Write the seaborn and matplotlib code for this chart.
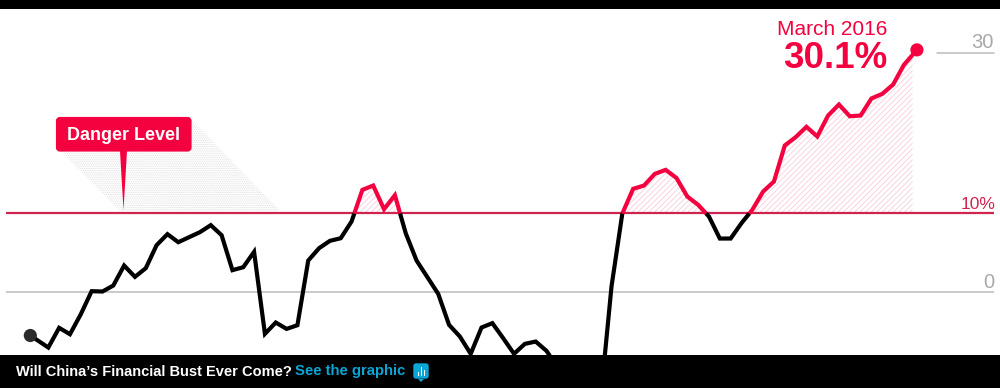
import numpy as np
import pandas as pd
import matplotlib
matplotlib.use("Agg")
import matplotlib.pyplot as plt
import seaborn as sns
from matplotlib.patches import Rectangle, FancyBboxPatch, Polygon
from matplotlib.transforms import Affine2D

# ---- data -----------------------------------------------------------------
quarters = [-1.66] + list(range(0, 80)) + [80.2]
gap_pct = [
    -5.52, -7.03, -4.56, -5.36, -2.85, 0.04, 0.0, 0.75, 3.26, 1.84,
    2.93, 5.82, 7.2, 6.19, 6.82, 7.45, 8.33, 7.07, 2.68, 3.05,
    4.98, -5.31, -3.89, -4.69, -4.23, 3.89, 5.44, 6.36, 6.69, 8.79,
    12.76, 13.3, 10.33, 12.09, 7.32, 3.89, 1.8, -0.29, -4.18, -5.65,
    -7.82, -4.52, -3.97, -5.86, -7.82, -6.57, -6.28, -7.45, -9.5, -12.0,
    -14.0, -15.0, -13.4, 0.63, 9.79, 12.89, 13.3, 14.77, 15.27, 14.25,
    11.92, 10.88, 9.41, 6.65, 6.65, 8.58, 10.25, 12.55, 13.81, 18.33,
    19.37, 20.67, 19.46, 22.09, 23.47, 22.0, 22.09, 24.23, 24.81, 25.98,
    28.45, 30.33,
]
danger = 9.8
y_ticks = [0, 30]
y_tick_labels = ["0", "30"]
danger_label = "10%"
callout_date = "March 2016"
callout_value = "30.1%"
danger_title = "Danger Level"
headline = "Will China\u2019s Financial Bust Ever Come?"
link_text = "See the graphic"

RED = "#f4013f"
LINE_RED = "#cf2450"
BLACK = "#000000"
GREY = "#bcbcbc"
BLUE = "#0ba5d6"

sns.set_theme(style="white")
plt.rcParams["font.family"] = ["Liberation Sans", "DejaVu Sans"]
plt.rcParams["hatch.linewidth"] = 0.5

fig = plt.figure(figsize=(10, 3.88), dpi=100, facecolor="white")
ax = fig.add_axes([0, 0, 1, 1])
ax.set_xlim(-4.46, 87.87)
ax.set_ylim(-12.11, 36.59)
ax.axis("off")

px = Affine2D().scale(1, -1).translate(0, 388)  # decoration pixels, y down

# ---- split line at the danger level ---------------------------------------
x = np.array(quarters, float)
y = np.array(gap_pct, float)
seg, cur, above = [], [(x[0], y[0])], y[0] > danger
for i in range(1, len(x)):
    now = y[i] > danger
    if now != above:
        t = (danger - y[i - 1]) / (y[i] - y[i - 1])
        cx = x[i - 1] + t * (x[i] - x[i - 1])
        cur.append((cx, danger))
        seg.append((above, cur))
        cur = [(cx, danger)]
        above = now
    cur.append((x[i], y[i]))
seg.append((above, cur))

# hatched areas above the level
dense_x = np.unique(np.concatenate([x, [p[0] for _, s in seg for p in (s[0], s[-1])], [79.8]]))
dense_y = np.interp(dense_x, x, y)
keep = dense_x <= 79.8
ax.fill_between(dense_x[keep], danger, dense_y[keep], where=dense_y[keep] >= danger - 1e-9,
                interpolate=True, facecolor="white", edgecolor="#f8c4d2",
                hatch="//////", linewidth=0, zorder=1)

# grey dotted shadow behind the label
ax.add_patch(Polygon([(60, 150), (192, 120), (280, 211), (120, 211)], closed=True,
                     transform=px, facecolor="white", edgecolor="#dedede", hatch=".........",
                     linewidth=0, zorder=1))

# reference lines
ax.hlines(y_ticks[0], -3.9, 87.35, color=GREY, lw=1.1, zorder=2)
ax.add_line(plt.Line2D([937, 994], [52.5, 52.5], transform=px, color=GREY, lw=1.1, zorder=2))
ax.hlines(danger, -3.9, 87.35, color=LINE_RED, lw=1.6, zorder=4)

# data line
for i, (is_up, pts) in enumerate(seg):
    d = pd.DataFrame(pts, columns=["quarter", "gap"])
    sns.lineplot(data=d, x="quarter", y="gap", ax=ax, color=RED if is_up else BLACK,
                 lw=3.0, sort=False, estimator=None, legend=False, zorder=5,
                 solid_joinstyle="miter", solid_capstyle="butt")
ax.axis("off")
ax.set_xlim(-4.46, 87.87)
ax.set_ylim(-12.11, 36.59)

ends = pd.DataFrame({"quarter": [x[0], x[-1]], "gap": [y[0], y[-1]], "which": ["s", "e"]})
sns.scatterplot(data=ends, x="quarter", y="gap", hue="which", palette={"s": "#2b2b2b", "e": RED},
                s=90, linewidth=0, legend=False, ax=ax, zorder=6)
ax.axis("off")

# danger label
ax.add_patch(FancyBboxPatch((58, 119), 131.5, 30.5, boxstyle="round,pad=0,rounding_size=2",
                            transform=px, fc=RED, ec=RED, lw=3, zorder=7, mutation_aspect=1))
ax.add_patch(Polygon([(120, 151), (127, 151), (123.5, 210)], closed=True, transform=px,
                     fc=RED, ec="none", zorder=7))
ax.text(123.5, 140, danger_title, transform=px, color="white", fontsize=13, weight="bold",
        ha="center", va="baseline", zorder=8)

# value labels
ax.text(994, 48, y_tick_labels[1], transform=px, color="#a9a9a9", fontsize=14.5, ha="right", va="baseline")
ax.text(994, 287.5, y_tick_labels[0], transform=px, color="#a9a9a9", fontsize=14.5, ha="right", va="baseline")
ax.text(995, 209, danger_label, transform=px, color=LINE_RED, fontsize=12.5, ha="right", va="baseline")
ax.text(887, 35, callout_date, transform=px, color=RED, fontsize=15, ha="right", va="baseline")
ax.text(887, 67.5, callout_value, transform=px, color=RED, fontsize=26.5, weight="bold", ha="right", va="baseline")

# black bars
ax.add_patch(Rectangle((0, 0), 1000, 9, transform=px, fc="black", ec="none", zorder=20))
ax.add_patch(Rectangle((0, 354.5), 1000, 34, transform=px, fc="black", ec="none", zorder=20))
ax.text(16, 375.5, headline, transform=px, color="white", fontsize=10.5, weight="bold", va="baseline", zorder=21)
ax.text(295, 375.5, link_text, transform=px, color=BLUE, fontsize=10.7, weight="bold", va="baseline", zorder=21)

# graphic icon
ax.add_patch(FancyBboxPatch((414, 364), 14, 14, boxstyle="round,pad=0,rounding_size=2",
                            transform=px, fc=BLUE, ec=BLUE, lw=1, zorder=21))
ax.add_patch(Polygon([(418, 379), (424, 379), (421, 382)], closed=True, transform=px, fc=BLUE, ec="none", zorder=21))
for bx, top in zip([417.5, 420.5, 423.5], [372, 367, 370]):
    ax.add_patch(Rectangle((bx, top), 1.6, 376 - top, transform=px, fc="white", ec="none", zorder=22))

fig.savefig("out.png", dpi=100)
